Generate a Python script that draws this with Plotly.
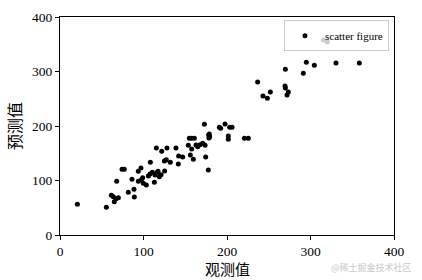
import plotly.graph_objects as go

observed = [20.8, 55.5, 61.5, 63.9, 65.0, 67.0, 69.9, 67.9, 74.3, 77.0,
            81.8, 86.2, 88.6, 89.0, 93.8, 97.0, 93.8, 97.4, 99.0, 99.8,
            103.4, 105.8, 108.2, 107.8, 110.6, 113.0, 113.8, 115.4, 116.2, 117.4,
            119.0, 121.0, 121.8, 125.3, 125.0, 128.1, 127.3, 132.1, 138.9, 141.7,
            142.1, 146.9, 153.7, 154.9, 157.7, 156.1, 157.7, 159.7, 160.9, 162.9,
            164.9, 167.7, 170.9, 172.9, 173.7, 174.5, 177.6, 178.0, 178.4, 179.2,
            178.8, 190.8, 192.4, 197.6, 201.6, 201.6, 203.2, 206.0, 220.8, 225.5,
            236.7, 243.1, 248.3, 251.9, 269.9, 269.5, 269.9, 271.9, 273.5, 291.4,
            295.0, 304.6, 315.4, 320.2, 330.5, 358.5]
predicted = [56.3, 50.8, 72.8, 70.3, 61.1, 66.6, 68.5, 98.5, 120.5, 120.5,
             78.3, 102.2, 83.8, 69.7, 116.8, 122.9, 98.5, 100.9, 105.1, 94.8,
             91.7, 108.3, 133.3, 111.9, 115.0, 96.7, 110.0, 159.6, 114.6, 116.8,
             107.0, 110.7, 153.6, 117.4, 135.8, 159.6, 138.2, 133.3, 159.6, 130.3,
             145.0, 143.1, 164.5, 177.4, 177.4, 146.8, 157.8, 138.9, 177.4, 165.1,
             162.0, 165.7, 168.2, 203.1, 164.5, 143.1, 119.3, 183.5, 178.0, 180.4,
             185.3, 197.6, 195.7, 203.7, 181.7, 175.6, 197.6, 197.6, 177.4, 177.4,
             280.7, 255.0, 250.8, 262.4, 304.0, 273.4, 269.7, 256.9, 262.4, 296.7,
             316.9, 311.3, 357.8, 354.1, 315.6, 315.6]

tick_vals = [0, 100, 200, 300, 400]

serif = "Times New Roman, Liberation Serif, DejaVu Serif, serif"
cjk = "Noto Sans CJK SC"

fig = go.Figure()
fig.add_trace(go.Scatter(
    x=observed, y=predicted, mode="markers", name="scatter figure",
    marker=dict(color="black", size=5, line=dict(width=0)),
))

axis_common = dict(
    range=[0, 400], tickvals=tick_vals, ticks="outside", ticklen=4, tickwidth=1,
    tickcolor="black", showline=True, linecolor="black", linewidth=1, mirror=True,
    showgrid=False, zeroline=False, automargin=False,
    tickfont=dict(family=serif, size=13.5, color="black"),
)

fig.update_layout(
    width=422, height=280,
    margin=dict(l=60, r=28, t=17, b=45),
    plot_bgcolor="white", paper_bgcolor="white",
    xaxis=dict(**axis_common),
    yaxis=dict(**axis_common, title=dict(text="预测值", font=dict(family=cjk, size=16, color="black"), standoff=6)),
    showlegend=True,
    legend=dict(x=0.985, y=0.985, xanchor="right", yanchor="top",
                bgcolor="rgba(255,255,255,0.8)", bordercolor="#cccccc", borderwidth=1,
                font=dict(family=serif, size=11, color="black"),
                itemwidth=30, tracegroupgap=0),
    annotations=[
        dict(text="观测值", xref="paper", yref="paper", x=0.5, y=-0.152,
             xanchor="center", yanchor="middle", showarrow=False,
             font=dict(family=cjk, size=15, color="black")),
        dict(text="@稀土掘金技术社区", xref="paper", yref="paper",
             x=1.06, y=-0.15, xanchor="right", yanchor="middle", showarrow=False,
             font=dict(family=cjk, size=9, color="#c8c8c8")),
    ],
)

fig.write_html("out.html")
